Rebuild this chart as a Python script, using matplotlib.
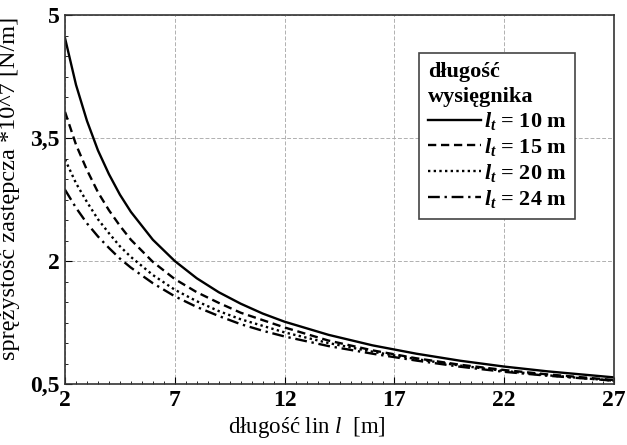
import numpy as np
import matplotlib
matplotlib.use("Agg")
import matplotlib.pyplot as plt
from matplotlib.ticker import MultipleLocator, FixedLocator, FixedFormatter

plt.rcParams['font.family'] = ['Liberation Serif', 'DejaVu Serif']
plt.rcParams['mathtext.fontset'] = 'custom'
plt.rcParams['mathtext.rm'] = 'Liberation Serif'
plt.rcParams['mathtext.it'] = 'Liberation Serif:italic'
plt.rcParams['mathtext.bf'] = 'Liberation Serif:bold'
plt.rcParams['mathtext.bfit'] = 'Liberation Serif:italic:bold'

# dlugosc lin l [m]
lin = [2, 2.5, 3, 3.5, 4, 4.5, 5, 6, 7, 8, 9, 10, 11, 12, 14, 16, 18, 20, 22, 24, 27]

# sprezystosc zastepcza *10^7 [N/m] dla roznych dlugosci wysiegnika
k_10 = [4.72, 4.15, 3.71, 3.35, 3.06, 2.81, 2.60, 2.26, 2.00, 1.79, 1.62, 1.48,
        1.36, 1.26, 1.10, 0.972, 0.870, 0.784, 0.713, 0.654, 0.581]
k_15 = [3.82, 3.42, 3.11, 2.84, 2.62, 2.43, 2.26, 1.99, 1.78, 1.62, 1.49, 1.37,
        1.28, 1.19, 1.03, 0.911, 0.814, 0.735, 0.671, 0.617, 0.549]
k_20 = [3.24, 2.95, 2.72, 2.51, 2.34, 2.18, 2.05, 1.83, 1.65, 1.51, 1.39, 1.29,
        1.21, 1.13, 1.00, 0.894, 0.804, 0.725, 0.660, 0.606, 0.541]
k_24 = [2.87, 2.65, 2.46, 2.30, 2.16, 2.03, 1.92, 1.73, 1.57, 1.44, 1.33, 1.23,
        1.15, 1.08, 0.963, 0.870, 0.786, 0.711, 0.649, 0.601, 0.541]

wysiegnik = ['10', '15', '20', '24']
x_ticks = [2, 7, 12, 17, 22, 27]
y_ticks = [0.5, 2, 3.5, 5]
y_tick_labels = ['0,5', '2', '3,5', '5']

fig = plt.figure(figsize=(6.27, 4.45), dpi=100)
ax = fig.add_axes([0.1037, 0.137, 0.8756, 0.829])

styles = ['-', (0, (3.5, 2)), (0, (1, 1.4)), (0, (5, 2, 1, 2))]
for k, lt, ls in zip([k_10, k_15, k_20, k_24], wysiegnik, styles):
    ax.plot(lin, k, color='black', linestyle=ls, linewidth=1.7,
            label=r'$\mathbfit{l}_{\mathbfit{t}}$ = ' + lt + ' m')

ax.set_xlim(2, 27)
ax.set_ylim(0.5, 5)
ax.xaxis.set_major_locator(FixedLocator(x_ticks))
ax.xaxis.set_minor_locator(MultipleLocator(0.5))
ax.yaxis.set_major_locator(FixedLocator(y_ticks))
ax.yaxis.set_major_formatter(FixedFormatter(y_tick_labels))
ax.yaxis.set_minor_locator(MultipleLocator(0.25))
ax.tick_params(which='both', direction='in', top=False, right=False)
ax.tick_params(which='major', length=5, labelsize=17, pad=4)
ax.tick_params(which='minor', length=2.5)
for lab in ax.get_xticklabels() + ax.get_yticklabels():
    lab.set_fontweight('bold')
ax.grid(True, which='major', color='#b0b0b0', linestyle=(0, (4, 2)), linewidth=0.7)
for sp in ax.spines.values():
    sp.set_linewidth(1.2)
    sp.set_color('#333333')

ax.set_xlabel(r'długość lin $l$  [m]', fontsize=16.5)
ax.set_ylabel('sprężystość zastępcza *10^7 [N/m]', fontsize=17.5)
ax.xaxis.set_label_coords(0.44, -0.085)
ax.yaxis.set_label_coords(-0.082, 0.53)

leg = ax.legend(title='długość\nwysięgnika', loc='upper left',
                bbox_to_anchor=(0.645, 0.897), fancybox=False, framealpha=1,
                edgecolor='#444444', prop={'size': 16, 'weight': 'bold'},
                title_fontproperties={'size': 16, 'weight': 'bold'},
                handlelength=2.4, handletextpad=0.1, labelspacing=0.17,
                borderpad=0.4, borderaxespad=0)
leg._legend_box.align = 'left'
leg.get_title().set_linespacing(1.3)
leg.get_frame().set_linewidth(1.2)

fig.savefig('out.png', dpi=100)
